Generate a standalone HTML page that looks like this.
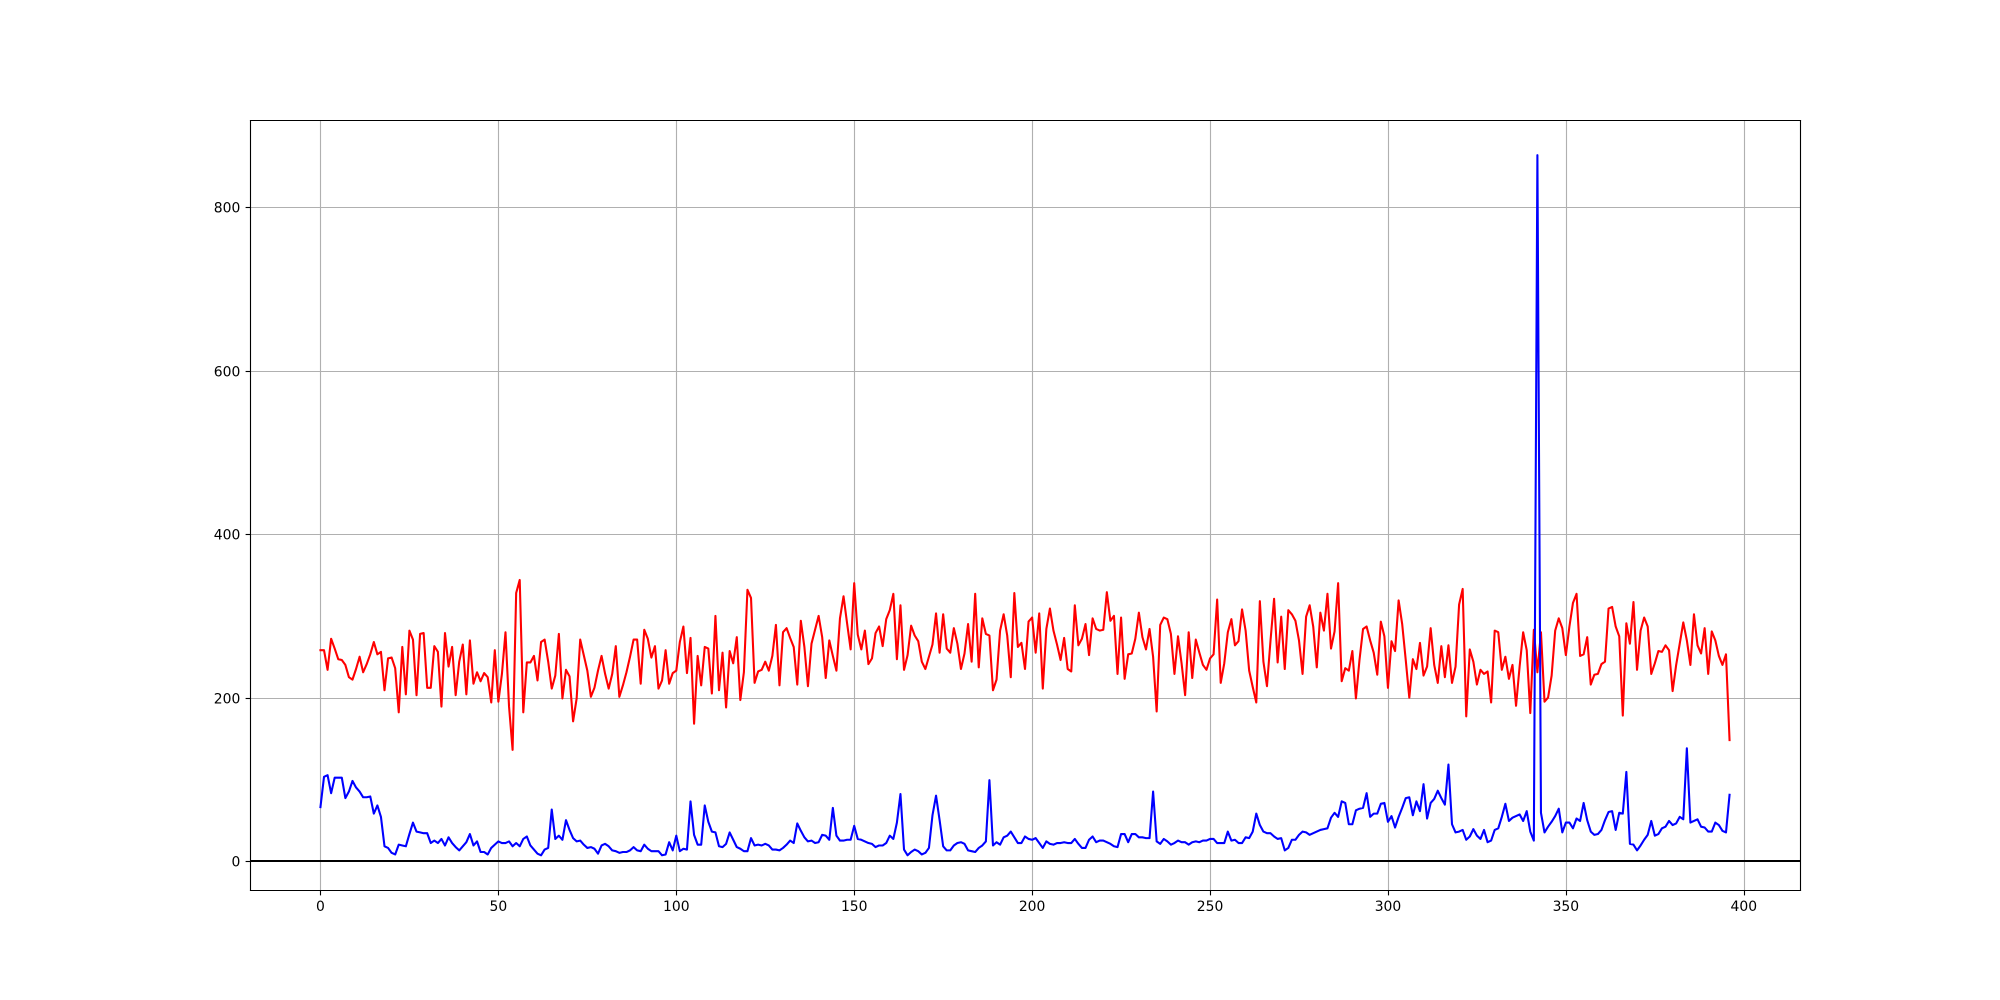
<!DOCTYPE html>
<html lang="en">
<head>
<meta charset="utf-8">
<title>Line chart</title>
<style>
html,body{margin:0;padding:0;background:#fff;width:2000px;height:1000px;overflow:hidden}
svg{display:block}
text{font-family:"DejaVu Sans","Liberation Sans",sans-serif;font-size:13.9px;fill:#000}
</style>
</head>
<body>
<svg id="chart" xmlns="http://www.w3.org/2000/svg" width="2000" height="1000" viewBox="0 0 2000 1000"></svg>
<script>
const xTickLabels = [0, 50, 100, 150, 200, 250, 300, 350, 400];
const yTickLabels = [0, 200, 400, 600, 800];
const baselineValue = 0;
const redSeries = [
258,258,234,272,260,247,246,240,225,222,
235,250,231,241,253,268,253,256,209,248,
249,236,182,262,204,282,271,203,278,279,
212,212,263,256,189,279,238,262,203,244,
265,204,270,217,231,220,230,225,194,258,
195,229,280,189,136,328,344,182,243,243,
251,221,268,271,244,211,227,278,199,234,
226,171,199,271,252,233,201,212,233,251,
229,211,229,263,201,215,231,250,271,271,
217,283,272,249,263,211,221,258,217,230,
233,268,287,230,273,168,251,215,262,260,
205,300,209,255,188,257,242,274,197,231,
332,322,218,232,234,244,233,251,289,215,
280,285,273,262,216,294,262,214,266,283,
300,274,224,270,251,233,297,324,291,259,
340,277,259,282,241,248,279,287,263,296,
307,327,247,313,234,252,288,276,269,244,
235,250,265,303,255,302,260,255,285,266,
235,254,290,244,327,237,297,278,276,209,
222,282,302,276,225,328,262,267,235,293,
298,255,303,211,284,309,282,265,246,273,
235,232,313,264,272,290,252,297,284,282,
283,329,294,300,229,298,223,253,254,272,
304,274,259,284,250,183,289,298,296,278,
229,275,242,203,280,224,271,255,240,234,
248,253,320,218,242,280,296,264,269,308,
282,233,213,194,318,244,214,270,321,243,
299,235,307,302,294,270,229,299,313,287,
237,304,282,327,260,281,340,220,236,233,
257,199,246,284,287,270,255,228,293,275,
212,269,257,319,290,246,200,247,235,267,
227,238,285,240,218,263,225,264,218,238,
314,333,177,259,244,216,234,229,232,194,
282,280,234,250,223,240,190,238,280,258,
181,283,231,280,195,200,227,282,297,285,
252,287,316,327,251,253,274,216,228,229,
241,244,309,311,287,275,178,291,266,317,
234,282,298,287,229,242,257,256,264,258,
208,240,266,292,270,240,302,264,254,285,
229,281,270,251,240,253,148
];
const blueSeries = [
66,103,105,83,102,102,102,77,85,98,
90,85,78,78,79,58,68,54,18,16,
10,8,20,19,18,33,47,36,35,34,
34,22,25,22,27,19,29,22,17,13,
18,23,33,19,24,11,11,8,16,20,
24,22,22,24,18,22,18,27,30,19,
14,9,7,14,16,63,27,31,26,50,
38,28,24,25,20,16,17,15,9,19,
21,18,13,12,10,11,11,13,17,13,
12,20,15,12,12,12,7,8,23,13,
31,12,15,14,73,32,20,20,68,48,
36,35,18,17,21,35,26,17,15,12,
12,28,19,20,19,21,19,14,14,13,
16,20,25,22,46,37,29,24,25,22,
23,32,31,26,65,31,25,25,26,26,
43,27,26,24,22,21,17,19,19,22,
31,27,47,82,14,7,11,14,12,8,
10,16,56,80,50,18,13,13,19,22,
23,21,13,12,11,16,19,24,99,19,
23,20,29,31,36,29,22,22,30,27,
26,28,22,16,24,21,20,22,22,23,
22,22,27,21,16,16,26,30,23,25,
25,23,21,18,17,33,33,23,33,33,
29,29,28,28,85,24,21,27,24,20,
22,25,23,23,20,23,24,23,25,25,
27,27,22,22,22,36,25,26,22,22,
29,28,36,58,44,36,34,34,30,27,
28,13,16,26,26,32,36,35,32,34,
36,38,39,40,53,59,54,73,71,45,
45,62,64,65,83,54,58,58,70,71,
48,55,41,54,65,77,78,56,73,61,
94,52,71,76,86,77,69,118,45,35,
36,38,26,30,39,31,27,38,23,25,
38,40,54,70,49,53,55,57,49,61,
36,25,864,59,35,42,48,55,64,35,
47,47,40,52,49,71,50,36,32,33,
38,50,60,61,38,59,58,109,21,20,
13,19,26,32,49,31,33,40,42,49,
44,46,54,51,138,47,49,51,42,41,
36,36,47,44,37,35,81
];

const NS = 'http://www.w3.org/2000/svg';
const svg = document.getElementById('chart');
const AX = {left: 250, right: 1800, top: 120, bottom: 890};
const xDomain = [-19.8, 415.8];
const yZeroPx = 861;
const yPxPerUnit = 0.817;

function sx(v) { return AX.left + (v - xDomain[0]) * (AX.right - AX.left) / (xDomain[1] - xDomain[0]); }
function sy(v) { return yZeroPx - v * yPxPerUnit; }
function snap(p) { return Math.round(p) + 0.5; }

function make(tag, attrs, parent) {
  const el = document.createElementNS(NS, tag);
  for (const k in attrs) el.setAttribute(k, attrs[k]);
  (parent || svg).appendChild(el);
  return el;
}

const defs = make('defs', {});
const clip = make('clipPath', {id: 'plot-clip'}, defs);
make('rect', {x: AX.left, y: AX.top, width: AX.right - AX.left, height: AX.bottom - AX.top}, clip);

const bg = make('rect', {x: AX.left, y: AX.top, width: AX.right - AX.left, height: AX.bottom - AX.top, fill: '#fff'});



xTickLabels.forEach(function (t) {
  const px = snap(sx(t));
  const grid = make('line', {x1: px, x2: px, y1: AX.top, y2: AX.bottom, stroke: '#b0b0b0', 'stroke-width': 1.11});
  
  
  const tick = make('line', {x1: px, x2: px, y1: AX.bottom + 0.5, y2: AX.bottom + 5.4, stroke: '#000', 'stroke-width': 1.11});
  
  
  const label = make('text', {x: sx(t), y: 911, 'text-anchor': 'middle'});
  label.textContent = String(t);
  
  
});

yTickLabels.forEach(function (t) {
  const py = snap(sy(t));
  const grid = make('line', {x1: AX.left, x2: AX.right, y1: py, y2: py, stroke: '#b0b0b0', 'stroke-width': 1.11});
  
  
  const tick = make('line', {x1: AX.left - 4.4, x2: AX.left + 0.5, y1: py, y2: py, stroke: '#000', 'stroke-width': 1.11});
  
  
  const label = make('text', {x: 240.3, y: py + 4.8, 'text-anchor': 'end'});
  label.textContent = String(t);
  
  
});

function drawSeries(values, color, name) {
  const pts = values.map(function (v, i) { return sx(i).toFixed(2) + ',' + sy(v).toFixed(2); }).join(' ');
  const line = make('polyline', {points: pts, fill: 'none', stroke: color, 'stroke-width': 2.08, 'stroke-linejoin': 'round', 'stroke-linecap': 'square', 'clip-path': 'url(#plot-clip)'});
  
  
}

drawSeries(redSeries, '#ff0000', 'red-series-line');
drawSeries(blueSeries, '#0000ff', 'blue-series-line');

const base = make('line', {x1: AX.left, x2: AX.right, y1: sy(baselineValue), y2: sy(baselineValue), stroke: '#000', 'stroke-width': 2.08});



[['left-spine', AX.left + 0.5, AX.top + 0.5, AX.left + 0.5, AX.bottom + 0.5],
 ['right-spine', AX.right + 0.5, AX.top + 0.5, AX.right + 0.5, AX.bottom + 0.5],
 ['top-spine', AX.left + 0.5, AX.top + 0.5, AX.right + 0.5, AX.top + 0.5],
 ['bottom-spine', AX.left + 0.5, AX.bottom + 0.5, AX.right + 0.5, AX.bottom + 0.5]].forEach(function (s) {
  const spine = make('line', {x1: s[1], y1: s[2], x2: s[3], y2: s[4], stroke: '#000', 'stroke-width': 1.11, 'stroke-linecap': 'square'});
  
  
});
</script>
</body>
</html>
